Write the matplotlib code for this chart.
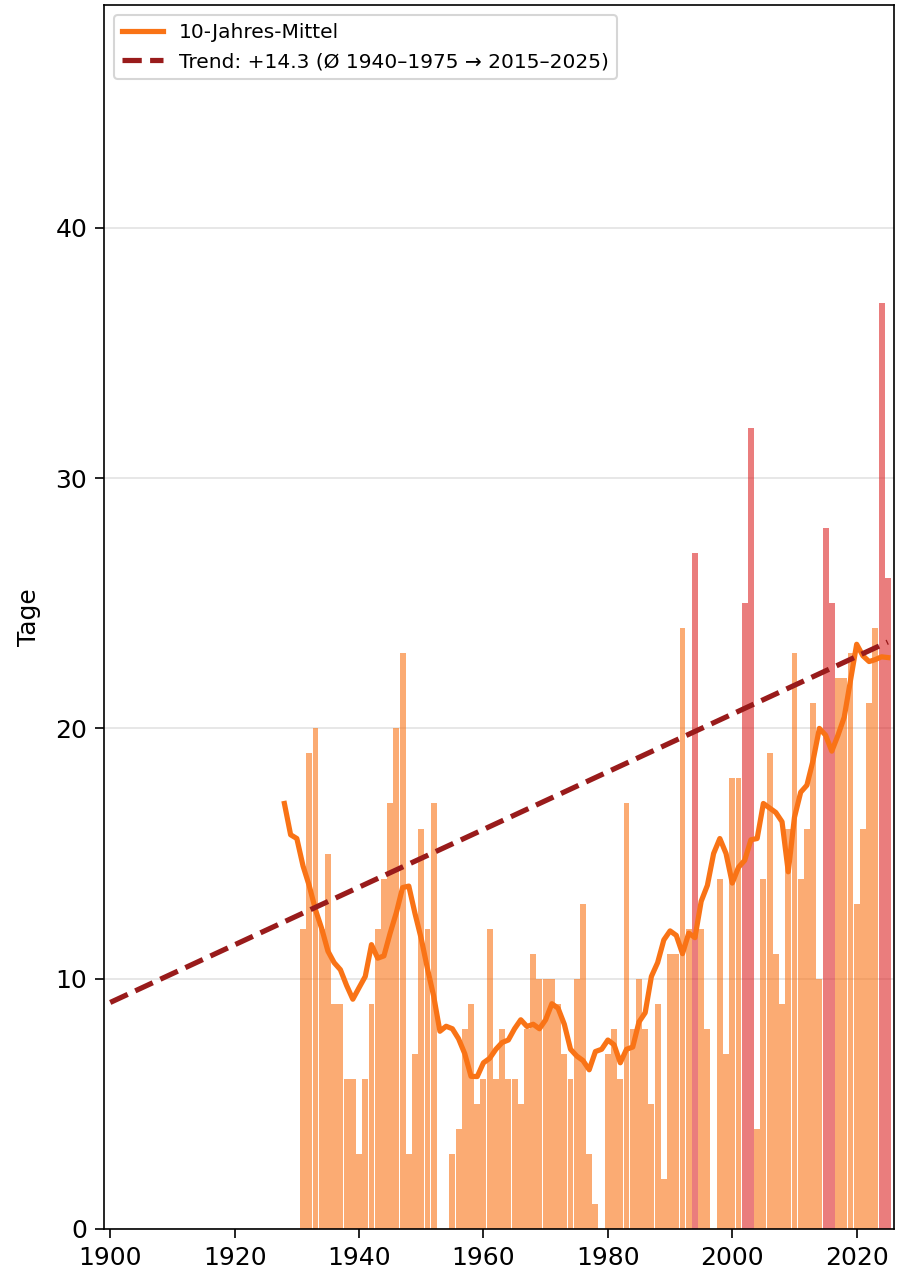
import numpy as np
import matplotlib
matplotlib.use("Agg")
import matplotlib.pyplot as plt

# days per year (1953: no value)
years = list(range(1931, 2026))
days = [12, 19, 20, 12, 15, 9, 9, 6, 6, 3,
        6, 9, 12, 14, 17, 20, 23, 3, 7, 16,
        12, 17, np.nan, 0, 3, 4, 8, 9, 5, 6,
        12, 6, 8, 6, 6, 5, 8, 11, 10, 10,
        10, 9, 7, 6, 10, 13, 3, 1, 0, 7,
        8, 6, 17, 8, 10, 8, 5, 9, 2, 11,
        11, 24, 12, 27, 12, 8, 0, 14, 7, 18,
        18, 25, 32, 4, 14, 19, 11, 9, 16, 23,
        14, 16, 21, 10, 28, 25, 22, 22, 23, 13,
        16, 21, 24, 37, 26]

# 10-Jahres-Mittel
mean_years = list(range(1928, 2026))
mean_vals = [17.0, 15.75, 15.6, 14.5, 13.71, 12.75, 12.0, 11.1, 10.64, 10.36,
             9.73, 9.18, 9.64, 10.09, 11.36, 10.82, 10.91, 11.82, 12.64, 13.64,
             13.7, 12.6, 11.6, 10.4, 9.3, 7.9, 8.1, 8.0, 7.6, 7.0,
             6.1, 6.09, 6.64, 6.82, 7.18, 7.45, 7.55, 8.0, 8.36, 8.09,
             8.18, 8.0, 8.36, 9.0, 8.82, 8.18, 7.18, 6.91, 6.73, 6.36,
             7.09, 7.18, 7.55, 7.36, 6.64, 7.18, 7.27, 8.27, 8.64, 10.09,
             10.64, 11.55, 11.91, 11.73, 11.0, 11.82, 11.64, 13.09, 13.73, 15.0,
             15.6, 15.0, 13.82, 14.45, 14.73, 15.55, 15.6, 17.0, 16.82, 16.64,
             16.27, 14.27, 16.45, 17.45, 17.73, 18.73, 20.0, 19.73, 19.09, 19.73,
             20.45, 21.91, 23.36, 22.9, 22.67, 22.75, 22.86, 22.83]

trend_years = [1900, 2025]
trend_vals = [9.05, 23.45]
trend_label = "Trend: +14.3 (Ø 1940–1975 → 2015–2025)"

days = np.array(days, dtype=float)
bar_colors = ["#dc2626" if v >= 25 else "#f97316" for v in np.nan_to_num(days)]

fig = plt.figure(figsize=(5.98, 8.5), dpi=150)
ax = fig.add_axes([104 / 897, 46 / 1275, 790 / 897, 1224 / 1275])

ax.bar(years, days, width=0.95, color=bar_colors, alpha=0.6, linewidth=0)
ax.plot(mean_years, mean_vals, color="#f97316", lw=2.5, label="10-Jahres-Mittel")
ax.plot(trend_years, trend_vals, color="#991b1b", lw=2.5, ls="--", label=trend_label)

ax.set_xlim(1899, 2026)
ax.set_ylim(0, 48.9)
ax.set_xticks(range(1900, 2021, 20))
ax.set_yticks(range(0, 41, 10))
ax.tick_params(labelsize=12, length=4.5)
ax.set_ylabel("Tage", fontsize=12, labelpad=7)
ax.grid(axis="y", color="#e6e6e6", lw=0.9)
ax.set_axisbelow(True)
ax.legend(loc="upper left", fontsize=9.7)

fig.savefig("out.png", dpi=150)
